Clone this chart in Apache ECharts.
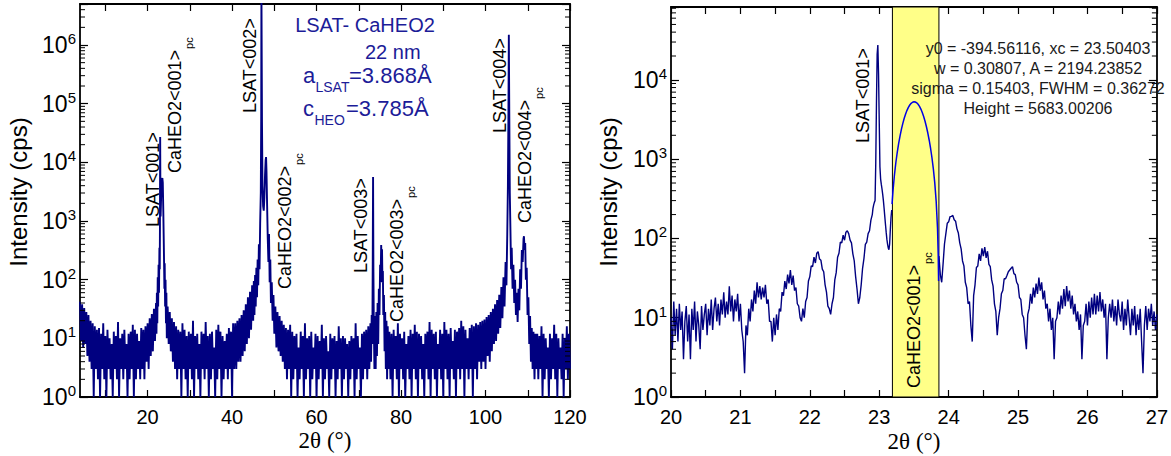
<!DOCTYPE html>
<html><head><meta charset="utf-8">
<script src="https://cdn.jsdelivr.net/npm/echarts@6/dist/echarts.min.js"></script>
<style>html,body{margin:0;padding:0;background:#fff}#c{width:1171px;height:456px}</style>
</head><body><div id="c"></div>
<script>
// ================= DATA =================
// Left panel: wide 2θ scan (noisy background sampled every 0.25°, peaks as [2θ, cps] pairs)
const leftStep = 0.25;
const leftNoise1Start = 4.0;
const leftNoise1 = [42,9,38,7,33,8,28,5,25,4, 20,3,18,1,16,3,14,2,15,1, 12,3,18,2,11,1,14,3,10,2,
  8,1,13,3,11,2,19,1,10,3, 12,2,14,3,8,1,12,2,13,3, 17,1,14,2,12,3,9,2,15,3, 14,2,16,4,18,3,22,5,26,6, 32,9];
const leftPeak1 = [[22.00,40],[22.10,12],[22.20,60],[22.30,18],[22.40,110],[22.50,35],[22.60,180],[22.70,60],
  [22.80,350],[22.88,150],[22.93,900],[22.96,8000],[22.98,27000],[23.02,5000],[23.08,1200],[23.15,1800],
  [23.25,3500],[23.40,5000],[23.50,5400],[23.60,4500],[23.72,1500],[23.82,500],[23.90,200],[23.98,70],
  [24.05,190],[24.15,35],[24.25,100],[24.35,18],[24.45,60],[24.55,10]];
const leftNoise2Start = 24.75;
const leftNoise2 = [35,8,28,6,22,4,19,3,16,2, 14,3,13,1,18,3,14,2,11,1, 13,3,12,2,20,1,11,3,12,2,
  8,1,13,3,12,2,19,3,11,1, 12,2,13,3,7,1,14,2,17,3, 13,1,11,2,9,3,12,2,15,3, 13,1,18,3,18,3,20,4,22,4,
  25,5,30,6,38,8,50,10,62,14, 80];
const leftPeak2 = [[45.00,20],[45.15,95],[45.30,25],[45.45,120],[45.60,35],[45.75,160],[45.90,50],[46.05,220],
  [46.20,80],[46.35,400],[46.50,150],[46.65,900],[46.80,3000],[46.90,60000],[46.95,1e7],[47.02,1e7],
  [47.08,50000],[47.20,4000],[47.35,1800],[47.50,1500],[47.65,2500],[47.80,6000],[47.95,11000],[48.05,12300],
  [48.15,7000],[48.30,1800],[48.45,500],[48.60,200],[48.75,600],[48.90,90],[49.05,220],[49.20,40],
  [49.40,90],[49.60,20],[49.80,55],[50.00,12],[50.25,35],[50.50,7],[50.75,28]];
const leftNoise3Start = 51.0;
const leftNoise3 = [6,24,5,20,4,17,3,15,2,14, 3,17,1,13,2,11,3,12,1,7, 2,13,3,11,1,18,2,10,3,11,
  1,13,2,7,3,12,1,11,2,9, 3,17,1,10,2,11,3,6,1,12, 2,10,3,11,1,9,2,16,3,10, 1,11,2,10,3,8,1,9,2,11,
  3,10,1,18,2,11,3,7,1,12, 2,13,3,14,2,16,3];
const leftPeak3 = [[72.75,18],[72.90,4],[73.05,25],[73.20,8],[73.30,200],[73.38,5600],[73.46,150],[73.55,20],
  [73.70,3],[73.85,24],[74.00,3],[74.15,28],[74.30,5],[74.45,40],[74.60,8],[74.75,70],[74.90,25],
  [75.05,180],[75.15,90],[75.30,390],[75.40,200],[75.50,330],[75.60,90],[75.70,140],[75.80,25],
  [75.95,55],[76.10,6],[76.25,28],[76.40,3],[76.55,20],[76.70,2],[76.85,16],[77.00,3]];
const leftNoise4Start = 77.25;
const leftNoise4 = [13,2,12,1,14,3,11,2,18,1, 12,3,10,2,13,1,8,3,11,2, 14,1,12,3,17,2,13,1,12,3,
  11,2,8,1,12,3,13,2,19,1, 14,3,12,2,13,1,8,3,14,2, 12,1,19,3,14,2,12,1,15,3, 9,2,14,1,13,3,15,2,20,3,
  16,1,14,3,10,2,15,3,17,1, 16,3,18,2,17,4,19,3,20,4, 21,3,23,5,25,4,28,6,32,8];
const leftPeak4 = [[102.25,38],[102.50,9],[102.75,45],[103.00,12],[103.25,55],[103.50,15],[103.75,75],
  [104.00,22],[104.25,110],[104.50,35],[104.75,200],[104.95,80],[105.15,600],[105.30,4000],[105.42,60000],
  [105.52,1.5e6],[105.62,80000],[105.75,3000],[105.90,700],[106.05,150],[106.20,350],[106.40,70],
  [106.60,180],[106.80,40],[107.00,100],[107.20,25],[107.40,60],[107.60,19],[107.80,70],[108.00,30],
  [108.20,150],[108.40,70],[108.60,320],[108.80,200],[109.00,500],[109.10,550],[109.25,320],[109.40,420],
  [109.55,100],[109.75,160],[109.95,25],[110.15,50],[110.35,8],[110.55,24],[110.75,4],[110.95,15],
  [111.15,3],[111.35,13],[111.60,2],[111.80,12],[112.00,3]];
const leftNoise5Start = 112.25;
const leftNoise5 = [12,2,11,3,16,1,12,2,10,3, 7,1,12,2,10,3,17,2,12,1, 10,3,7,2,12,1,10,3,16,2, 12,3];

// Right panel: zoom around <001> (sampled every 0.02°, substrate peak every 0.01°)
const rightStep = 0.02;
const rightScanAStart = 20.0;
const rightScanA = [10,4,16,6,13,5,15,7,12,3, 9,14,5,11,3,13,7,16,5,12, 8,4,14,7,11,15,6,13,8,17,
  7,13,18,9,15,8,17,11,21,10, 16,11,25,12,19,9,17,12,20,9, 15,7,5,2,8,6,13,9,17,12,
  22,15,28,18,25,17,24,18,26,15, 17,9,9,5,10,6,11,7,13,12, 21,19,29,23,35,27,40,26,34,22,
  24,15,14,10,9,13,10,16,18,29, 33,45,44,58,49,65,68,55,53,41, 38,26,21,14,13,11,15,18,30,37,
  58,65,90,88,110,95,120,125,115,95, 88,64,52,33,23,15,18,26,42,56, 84,90,115,125,170];
const rightPeak = [[22.90,200],[22.91,240],[22.92,265],[22.93,285],[22.94,300],[22.95,900],[22.96,5000],
  [22.97,21000],[22.98,27500],[22.99,12000],[23.00,3000],[23.01,800],[23.02,560],[23.03,480],[23.04,420],
  [23.05,360],[23.06,300],[23.07,240],[23.08,190],[23.09,150],[23.10,120],[23.11,98],[23.12,85],
  [23.13,76],[23.14,72],[23.15,85],[23.16,130],[23.17,185],[23.18,228]];
const rightScanBStart = 23.86;
const rightScanB = [60,35,28,48,85,115,155,162,188,190, 195,172,165,132,117,88,74,52,45,28,
  24,15,16,8,5,19,26,43,45,64, 52,75,60,78,57,69,47,44,30,25, 15,12,6,10,13,20,22,31,31,34,
  38,40,42,44,36,35,28,26,18,17, 11,10,6,4,11,13,20,15,24,18, 27,20,32,22,28,17,22,13,15,9,
  13,7,10,3,9,10,16,11,19,13, 23,14,25,16,22,13,19,11,15,9, 12,7,11,3,8,9,15,8,16,10,
  18,11,20,11,19,12,21,12,17,10, 15,3,10,15,10,17,9,14,8,17, 11,9,16,7,13,8,17,10,6,13,
  8,14,6,11,7,13,5,2,8,14, 7,13,9,15,8,12,7,11];
// Gaussian fit curve
const fitCurve = [[23.185,271],[23.20,416],[23.22,644],[23.24,914],[23.26,1226],[23.28,1579],[23.30,1970],
  [23.32,2390],[23.34,2830],[23.36,3276],[23.38,3716],[23.40,4130],[23.42,4503],[23.44,4819],[23.46,5061],
  [23.48,5220],[23.50,5287],[23.52,5258],[23.54,5135],[23.56,4925],[23.58,4637],[23.60,4285],[23.62,3885],
  [23.64,3454],[23.66,3008],[23.68,2564],[23.70,2135],[23.72,1732],[23.74,1363],[23.76,1034],[23.78,747],
  [23.80,502],[23.82,298],[23.84,132],[23.85,61],[23.855,29]];
const fitBand = [23.19, 23.86];
const fitText = ['y0 = -394.56116, xc = 23.50403', 'w = 0.30807, A = 2194.23852',
  'sigma = 0.15403, FWHM = 0.36272', 'Height = 5683.00206'];

// Axes
const leftXRange = [4, 120];
const leftXTicks = [10,20,30,40,50,60,70,80,90,100,110,120];
const leftXLabels = [20,40,60,80,100,120];
const leftYRange = [1, 5e6];
const rightXRange = [20, 27];
const rightXTicks = [20,20.5,21,21.5,22,22.5,23,23.5,24,24.5,25,25.5,26,26.5,27];
const rightXLabels = [20,21,22,23,24,25,26,27];
const rightYRange = [1, 8.3e4];

// ================= BUILD =================
function seq(start, step, vals) { return vals.map((v, i) => [+(start + i * step).toFixed(3), v]); }
const leftData = [].concat(
  seq(leftNoise1Start, leftStep, leftNoise1), leftPeak1,
  seq(leftNoise2Start, leftStep, leftNoise2), leftPeak2,
  seq(leftNoise3Start, leftStep, leftNoise3), leftPeak3,
  seq(leftNoise4Start, leftStep, leftNoise4), leftPeak4,
  seq(leftNoise5Start, leftStep, leftNoise5));
const rightDataA = [].concat(seq(rightScanAStart, rightStep, rightScanA), rightPeak);
const rightDataB = seq(rightScanBStart, rightStep, rightScanB);

function minorLog(maxV) {
  const out = [];
  for (let e = 0; e < 8; e++) for (let m = 2; m <= 9; m++) { const v = m * Math.pow(10, e); if (v < maxV) out.push(v); }
  return out;
}

const SANS = "'Liberation Sans', Arial, Helvetica, sans-serif";
const SERIF = "'Liberation Serif', 'Times New Roman', serif";
const NAVY = '#000080';
const TXTBLUE = '#1c1c98';

function powFmt(v) {
  const l = Math.log10(v), e = Math.round(l);
  if (Math.abs(l - e) > 1e-6) return '';
  return '{b|10}{s|' + e + '}';
}
const yLabel = {
  show: true, margin: 4, formatter: powFmt,
  rich: { b: { fontSize: 23, fontFamily: SANS, color: '#000', lineHeight: 28 },
          s: { fontSize: 15, fontFamily: SANS, color: '#000', lineHeight: 16, verticalAlign: 'top' } }
};
const axLine = { show: true, onZero: false, lineStyle: { color: '#000', width: 1.8 } };

function xAx(grid, range, ticks, labels, pos) {
  return {
    type: 'value', gridIndex: grid, position: pos, min: range[0], max: range[1],
    axisLine: axLine, splitLine: { show: false },
    axisTick: { show: true, inside: true, length: 7, customValues: ticks, lineStyle: { color: '#000', width: 1.2 } },
    axisLabel: pos === 'bottom' ? { show: true, customValues: labels, fontSize: 20, fontFamily: SANS, color: '#000', margin: 10 } : { show: false }
  };
}
function yAx(grid, range, pos) {
  return {
    type: 'log', logBase: 10, gridIndex: grid, position: pos, min: range[0], max: range[1],
    axisLine: axLine, splitLine: { show: false },
    axisTick: { show: true, inside: true, length: 8, lineStyle: { color: '#000', width: 1.2 } },
    axisLabel: pos === 'left' ? yLabel : { show: false }
  };
}
function minorTicks(xi, yi, xr, vals) {
  return {
    type: 'custom', xAxisIndex: xi, yAxisIndex: yi, silent: true, clip: false, z: 5,
    data: vals.map(v => [xr[0], v]),
    renderItem: function (params, api) {
      const v = api.value(1);
      const a = api.coord([xr[0], v]), b = api.coord([xr[1], v]);
      return { type: 'group', children: [
        { type: 'line', shape: { x1: a[0], y1: a[1], x2: a[0] + 5, y2: a[1] }, style: { stroke: '#000', lineWidth: 1 } },
        { type: 'line', shape: { x1: b[0], y1: b[1], x2: b[0] - 5, y2: b[1] }, style: { stroke: '#000', lineWidth: 1 } }
      ] };
    }
  };
}

function txt(x, y, text, size, opt) {
  opt = opt || {};
  return { type: 'text', x: x, y: y, rotation: opt.rot ? Math.PI / 2 : 0, z: 100, silent: true,
    style: { text: text, fontSize: size, fontFamily: opt.font || SANS, fill: opt.color || '#000',
      align: opt.align || 'left', verticalAlign: 'middle' } };
}
// rotated peak label with "pc" subscript
function peakLabel(cx, bottom, main, withPc, size) {
  size = size || 18;
  const els = [txt(cx, bottom, main, size, { rot: true })];
  if (withPc) {
    const len = main.length === 11 ? 6.837 * size : 5.337 * size;
    els.push(txt(cx + 14, bottom - len - 1, 'pc', 11, { rot: true }));
  }
  return els;
}

const graphics = [].concat(
  peakLabel(153, 227, 'LSAT<001>', false),
  peakLabel(174.5, 173, 'CaHEO2<001>', true),
  peakLabel(250, 113, 'LSAT<002>', false),
  peakLabel(284.5, 289, 'CaHEO2<002>', true),
  peakLabel(361, 273, 'LSAT<003>', false),
  peakLabel(396.5, 322, 'CaHEO2<003>', true),
  peakLabel(499.5, 133, 'LSAT<004>', false),
  peakLabel(524.5, 223, 'CaHEO2<004>', true),
  peakLabel(863, 143, 'LSAT<001>', false),
  peakLabel(913.5, 388, 'CaHEO2<001>', true),
  [
    txt(365, 25, 'LSAT- CaHEO2', 20, { color: TXTBLUE, align: 'center' }),
    txt(365, 51.5, '22 nm', 20, { color: TXTBLUE }),
    txt(303, 75, 'a', 22, { color: TXTBLUE }),
    txt(315.5, 87, 'LSAT', 14, { color: TXTBLUE }),
    txt(349, 75, '=3.868Å', 22, { color: TXTBLUE }),
    txt(303, 108.5, 'c', 22, { color: TXTBLUE }),
    txt(314.5, 120, 'HEO', 14, { color: TXTBLUE }),
    txt(346, 108.5, '=3.785Å', 22, { color: TXTBLUE }),
    txt(18.5, 192, 'Intensity (cps)', 24, { rot: true, align: 'center' }),
    txt(608.5, 192, 'Intensity (cps)', 24, { rot: true, align: 'center' }),
    txt(325, 440, '2θ (°)', 23, { font: SERIF, align: 'center' }),
    txt(914, 441, '2θ (°)', 23, { font: SERIF, align: 'center' })
  ],
  fitText.map((t, i) => txt(1038, 48.3 + i * 20, t, 16, { color: '#1a1a1a', align: 'center' }))
);

const chart = echarts.init(document.getElementById('c'), null, { renderer: 'svg', width: 1171, height: 456 });
chart.setOption({
  animation: false,
  backgroundColor: '#fff',
  grid: [
    { left: 80, top: 4, width: 490, height: 393, containLabel: false },
    { left: 671, top: 7, width: 486, height: 390, containLabel: false }
  ],
  xAxis: [
    xAx(0, leftXRange, leftXTicks, leftXLabels, 'bottom'),
    xAx(0, leftXRange, leftXTicks, leftXLabels, 'top'),
    xAx(1, rightXRange, rightXTicks, rightXLabels, 'bottom'),
    xAx(1, rightXRange, rightXTicks, rightXLabels, 'top')
  ],
  yAxis: [
    yAx(0, leftYRange, 'left'),
    yAx(0, leftYRange, 'right'),
    yAx(1, rightYRange, 'left'),
    yAx(1, rightYRange, 'right')
  ],
  series: [
    { type: 'line', xAxisIndex: 0, yAxisIndex: 0, data: leftData, showSymbol: false, symbol: 'none',
      lineStyle: { color: NAVY, width: 1.9 }, silent: true, z: 3 },
    { type: 'line', xAxisIndex: 2, yAxisIndex: 2, data: rightDataA, showSymbol: false, symbol: 'none',
      lineStyle: { color: NAVY, width: 1.4 }, silent: true, z: 3,
      markArea: { silent: true, itemStyle: { color: '#ffff88', borderColor: '#000', borderWidth: 1 },
        data: [[{ xAxis: fitBand[0] }, { xAxis: fitBand[1] }]] } },
    { type: 'line', xAxisIndex: 2, yAxisIndex: 2, data: rightDataB, showSymbol: false, symbol: 'none',
      lineStyle: { color: NAVY, width: 1.4 }, silent: true, z: 3 },
    { type: 'line', xAxisIndex: 2, yAxisIndex: 2, data: fitCurve, showSymbol: false, symbol: 'none',
      lineStyle: { color: '#0000e6', width: 1.5 }, silent: true, z: 4 },
    minorTicks(0, 0, leftXRange, minorLog(leftYRange[1])),
    minorTicks(2, 2, rightXRange, minorLog(rightYRange[1]))
  ],
  graphic: { elements: graphics }
});
</script>
</body></html>
